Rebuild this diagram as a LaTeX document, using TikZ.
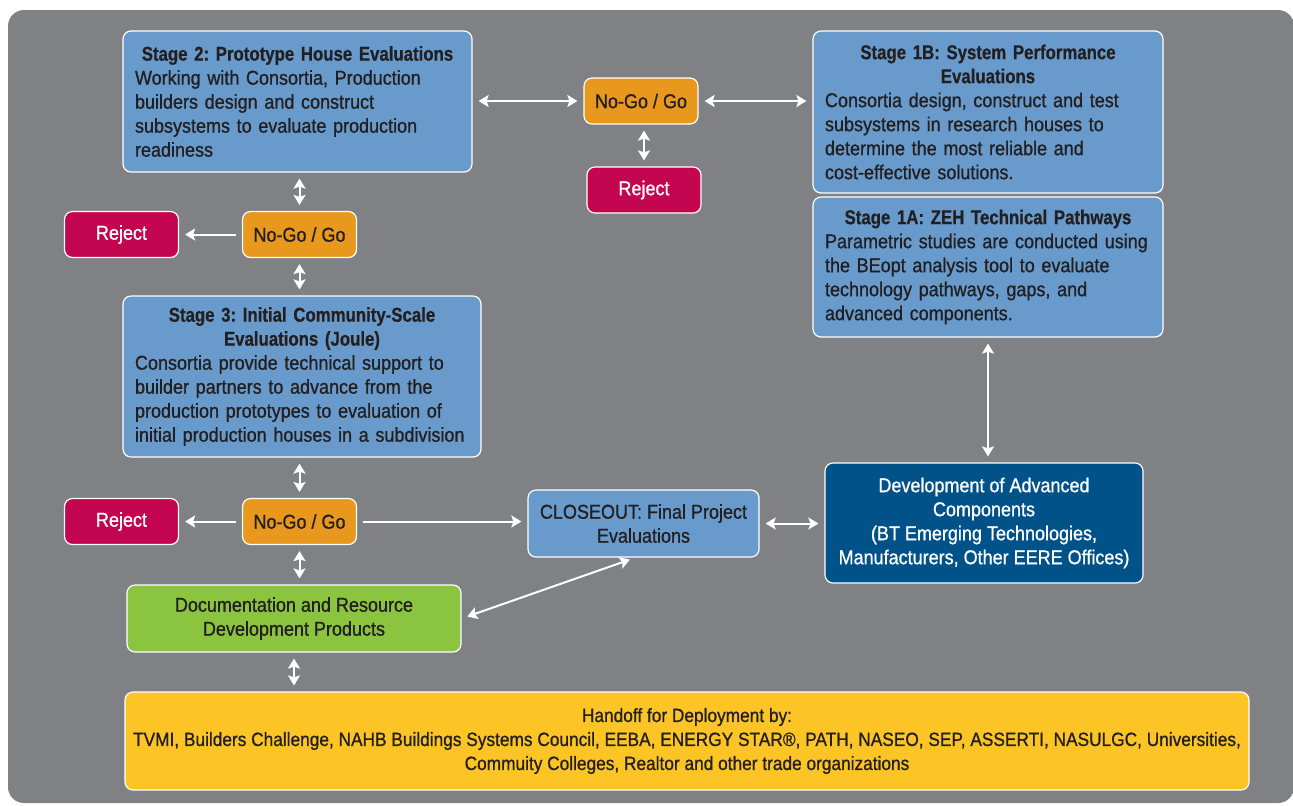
\documentclass[tikz,border=0pt]{standalone}
\usepackage{fontspec}
\setmainfont[FakeStretch=0.9, FakeBold=0.9, BoldFeatures={FakeStretch=0.84, FakeBold=0.6}]{Liberation Sans}
\usetikzlibrary{arrows.meta}
\frenchspacing

\definecolor{grundgrau}{RGB}{128,129,132}
\definecolor{stufenblau}{RGB}{104,154,203}
\definecolor{dunkelblau}{RGB}{0,82,136}
\definecolor{entscheid}{RGB}{232,152,29}
\definecolor{ablehnung}{RGB}{196,6,81}
\definecolor{doku}{RGB}{139,197,64}
\definecolor{uebergabe}{RGB}{253,196,37}
\definecolor{schrift}{RGB}{35,31,32}

\begin{document}
\begin{tikzpicture}[x=0.5pt, y=-0.5pt,
        box/.style={draw=white, line width=0.6pt, rounded corners=4pt, inner xsep=6pt, inner ysep=0pt,
            font=\fontsize{10}{12}\selectfont, text=schrift, align=center},
        stufe/.style={box, fill=stufenblau, align=left},
        entscheidung/.style={box, fill=entscheid, inner xsep=2pt, minimum width=57pt, minimum height=23pt},
        abgelehnt/.style={box, fill=ablehnung, text=white, inner xsep=2pt, minimum width=57pt, minimum height=23pt},
        pfeilspitze/.tip={Stealth[length=5pt, width=6pt, inset=1pt]},
        pfeil/.style={draw=white, line width=1pt, pfeilspitze-pfeilspitze, shorten <=3pt, shorten >=3pt},
        einpfeil/.style={draw=white, line width=1pt, -pfeilspitze, shorten <=3pt, shorten >=3pt}]

        \useasboundingbox (0,0) rectangle (1293,805);
        \fill[white] (0,0) rectangle (1293,805);

        % Hintergrund
        \fill[grundgrau, rounded corners=8pt] (8,10) rectangle (1294,803);

        % Stufen
        \node [stufe, minimum width=174.5pt, minimum height=70.5pt, text width=162.5pt] (stagetwo) at (297.5,101.5)
            {{\centering\bfseries Stage 2: Prototype House Evaluations\par}Working with Consortia, Production\\builders design and construct\\subsystems to evaluate production\\readiness};
        \node [stufe, minimum width=175pt, minimum height=81pt, text width=163pt] (stageoneb) at (988,112)
            {{\centering\bfseries Stage 1B: System Performance\\Evaluations\par}Consortia design, construct and test\\subsystems in research houses to\\determine the most reliable and\\cost-effective solutions.};
        \node [stufe, minimum width=175pt, minimum height=70pt, text width=163pt] (stageonea) at (988,267)
            {{\centering\bfseries Stage 1A: ZEH Technical Pathways\par}Parametric studies are conducted using\\the BEopt analysis tool to evaluate\\technology pathways, gaps, and\\advanced components.};
        \node [stufe, minimum width=179pt, minimum height=80.5pt, text width=167pt] (stagethree) at (302,376.5)
            {{\centering\bfseries Stage 3: Initial Community-Scale\\Evaluations (Joule)\par}Consortia provide technical support to\\builder partners to advance from the\\production prototypes to evaluation of\\initial production houses in a subdivision};

        % Entscheidungen
        \node [entscheidung] (nogotop) at (641,101) {No-Go / Go};
        \node [abgelehnt] (rejecttop) at (644,190) {Reject};
        \node [entscheidung] (nogoone) at (299.5,234.5) {No-Go / Go};
        \node [abgelehnt] (rejectone) at (121.5,234.5) {Reject};
        \node [entscheidung] (nogotwo) at (299.5,521.5) {No-Go / Go};
        \node [abgelehnt] (rejecttwo) at (121.5,521.5) {Reject};

        % weitere Kaesten
        \node [box, fill=stufenblau, minimum width=114.5pt, minimum height=33.5pt] (closeout) at (643.5,523.5)
            {CLOSEOUT: Final Project\\Evaluations};
        \node [box, fill=dunkelblau, text=white, minimum width=159pt, minimum height=60pt] (advanced) at (984,523)
            {Development of Advanced\\Components\\(BT Emerging Technologies,\\Manufacturers, Other EERE Offices)};
        \node [box, fill=doku, minimum width=167pt, minimum height=33.5pt] (docs) at (294,618.5)
            {Documentation and Resource\\Development Products};
        \node [box, fill=uebergabe, inner xsep=2pt, minimum width=562pt, minimum height=49pt, font=\fontsize{9.6}{12}\selectfont] (handoff) at (687,741)
            {Handoff for Deployment by:\\TVMI, Builders Challenge, NAHB Buildings Systems Council, EEBA, ENERGY STAR\textregistered, PATH, NASEO, SEP, ASSERTI, NASULGC, Universities,\\Commuity Colleges, Realtor and other trade organizations};

        % Pfeile
        \draw [pfeil] (stagetwo.east |- nogotop) -- (nogotop.west);
        \draw [pfeil] (nogotop.east) -- (nogotop -| stageoneb.west);
        \draw [pfeil] (rejecttop |- nogotop.south) -- (rejecttop.north);
        \draw [pfeil] (nogoone.north |- stagetwo.south) -- (nogoone.north);
        \draw [einpfeil] (nogoone.west) -- (rejectone.east);
        \draw [pfeil] (nogoone.south) -- (nogoone.south |- stagethree.north);
        \draw [pfeil] (nogotwo.north |- stagethree.south) -- (nogotwo.north);
        \draw [einpfeil] (nogotwo.west) -- (rejecttwo.east);
        \draw [einpfeil] (nogotwo.east) -- (nogotwo -| closeout.west);
        \draw [pfeil] (nogotwo.south) -- (nogotwo.south |- docs.north);
        \draw [pfeil] (closeout.east) -- (closeout -| advanced.west);
        \draw [pfeil] (stageonea.south) -- (stageonea.south |- advanced.north);
        \draw [pfeil] (docs.east) -- ([xshift=-4pt]closeout.south);
        \draw [pfeil] (docs.south) -- (docs.south |- handoff.north);

\end{tikzpicture}
\end{document}
